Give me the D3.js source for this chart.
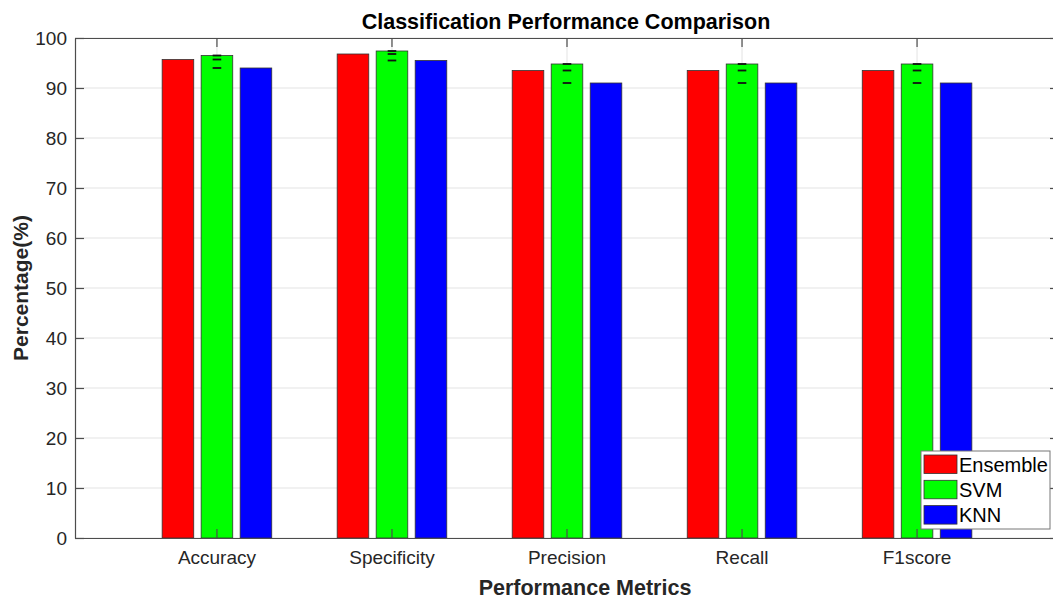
<!DOCTYPE html>
<html lang="en">
<head>
    <meta charset="UTF-8">
    <title>Classification Performance Comparison</title>
    <style>
        body {
            margin: 0;
            padding: 0;
            background: #fff;
            font-family: Arial, "Liberation Sans", Helvetica, sans-serif;
        }
        svg { display: block; }
        .grid line { stroke: #e3e3e3; stroke-width: 1px; }
        .axis path, .axis line { stroke: #4d4d4d; stroke-width: 1.2px; }
        .axis text { fill: #262626; font-size: 19px; font-family: Arial, "Liberation Sans", sans-serif; }
        .bar { stroke: #333; stroke-width: 0.8px; }
    </style>
</head>
<body>
    <div id="chart"></div>

    <script src="https://d3js.org/d3.v7.min.js"></script>
    <script>
        // data
        const categories = ["Accuracy", "Specificity", "Precision", "Recall", "F1score"];
        const seriesNames = ["Ensemble", "SVM", "KNN"];
        const ensembleValues = [95.7, 96.8, 93.5, 93.5, 93.5];
        const svmValues = [96.5, 97.4, 94.8, 94.8, 94.8];
        const knnValues = [94.0, 95.5, 91.0, 91.0, 91.0];
        const yTickValues = [0, 10, 20, 30, 40, 50, 60, 70, 80, 90, 100];
        const seriesColors = ["#ff0000", "#00ff00", "#0000ff"];

        const width = 1053, height = 601;
        const plot = { left: 75, right: 1059, top: 38, bottom: 538 };

        const rows = categories.map((c, i) => ({
            category: c,
            values: [ensembleValues[i], svmValues[i], knnValues[i]]
        }));

        const svg = d3.select("#chart")
            .append("svg")
            .attr("width", width)
            .attr("height", height);

        const x = d3.scaleBand()
            .domain(categories)
            .range([plot.left, plot.right])
            .paddingInner(0)
            .paddingOuter(0.311);

        const xSeries = d3.scaleBand()
            .domain(seriesNames)
            .range([-54.8, 54.8])
            .paddingInner(0.19)
            .paddingOuter(0);

        const y = d3.scaleLinear()
            .domain([0, 100])
            .range([plot.bottom, plot.top]);

        const center = c => x(c) + x.bandwidth() / 2;

        // grid
        const grid = svg.append("g").attr("class", "grid");
        grid.selectAll("line.h")
            .data(yTickValues)
            .enter().append("line")
            .attr("class", "h")
            .attr("x1", plot.left).attr("x2", plot.right)
            .attr("y1", d => y(d)).attr("y2", d => y(d));
        grid.selectAll("line.v")
            .data(categories)
            .enter().append("line")
            .attr("class", "v")
            .attr("x1", d => center(d)).attr("x2", d => center(d))
            .attr("y1", plot.top).attr("y2", plot.bottom);

        // bars
        const groups = svg.append("g")
            .selectAll("g")
            .data(rows)
            .enter().append("g")
            .attr("transform", d => `translate(${center(d.category)},0)`);

        groups.selectAll("rect")
            .data(d => d.values.map((v, i) => ({ series: seriesNames[i], value: v, i: i })))
            .enter().append("rect")
            .attr("class", "bar")
            .attr("x", d => xSeries(d.series))
            .attr("y", d => y(d.value))
            .attr("width", xSeries.bandwidth())
            .attr("height", d => y(0) - y(d.value))
            .attr("fill", d => seriesColors[d.i]);

        // small black marks drawn at the middle of each group
        groups.selectAll("line.mark")
            .data(d => d.values)
            .enter().append("line")
            .attr("class", "mark")
            .attr("x1", -4.3).attr("x2", 4.3)
            .attr("y1", d => y(d)).attr("y2", d => y(d))
            .attr("stroke", "#111")
            .attr("stroke-width", 1.8);

        // axes (ticks point inward, box on)
        svg.append("g")
            .attr("class", "axis")
            .attr("transform", `translate(0,${plot.bottom})`)
            .call(d3.axisBottom(x).tickSizeInner(-9).tickSizeOuter(0).tickPadding(13));

        svg.append("g")
            .attr("class", "axis")
            .attr("transform", `translate(0,${plot.top})`)
            .call(d3.axisTop(x).tickSizeInner(-9).tickSizeOuter(0).tickFormat(""));

        svg.append("g")
            .attr("class", "axis")
            .attr("transform", `translate(${plot.left},0)`)
            .call(d3.axisLeft(y).tickValues(yTickValues).tickSizeInner(-9).tickSizeOuter(0).tickPadding(8));

        svg.append("g")
            .attr("class", "axis")
            .attr("transform", `translate(${plot.right},0)`)
            .call(d3.axisRight(y).tickValues(yTickValues).tickSizeInner(-9).tickSizeOuter(0).tickFormat(""));

        // title and labels
        svg.append("text")
            .attr("x", 566)
            .attr("y", 29)
            .attr("text-anchor", "middle")
            .attr("font-size", "21.5px")
            .attr("font-weight", "bold")
            .attr("fill", "#000")
            .text("Classification Performance Comparison");

        svg.append("text")
            .attr("x", 585)
            .attr("y", 595)
            .attr("text-anchor", "middle")
            .attr("font-size", "21.5px")
            .attr("font-weight", "bold")
            .attr("fill", "#262626")
            .text("Performance Metrics");

        svg.append("text")
            .attr("transform", `translate(28,${(plot.top + plot.bottom) / 2}) rotate(-90)`)
            .attr("text-anchor", "middle")
            .attr("font-size", "21px")
            .attr("font-weight", "bold")
            .attr("fill", "#262626")
            .text("Percentage(%)");

        // legend
        const legend = svg.append("g").attr("transform", "translate(921,451)");
        legend.append("rect")
            .attr("width", 129)
            .attr("height", 78)
            .attr("fill", "#fff")
            .attr("stroke", "#777")
            .attr("stroke-width", 1);

        const items = legend.selectAll("g.item")
            .data(seriesNames)
            .enter().append("g")
            .attr("class", "item")
            .attr("transform", (d, i) => `translate(3,${4 + i * 25.3})`);

        items.append("rect")
            .attr("width", 33)
            .attr("height", 18.5)
            .attr("fill", (d, i) => seriesColors[i])
            .attr("stroke", "#333")
            .attr("stroke-width", 0.8);

        items.append("text")
            .attr("x", 35)
            .attr("y", 16.5)
            .attr("font-size", "20px")
            .attr("fill", "#000")
            .text(d => d);
    </script>
</body>
</html>
